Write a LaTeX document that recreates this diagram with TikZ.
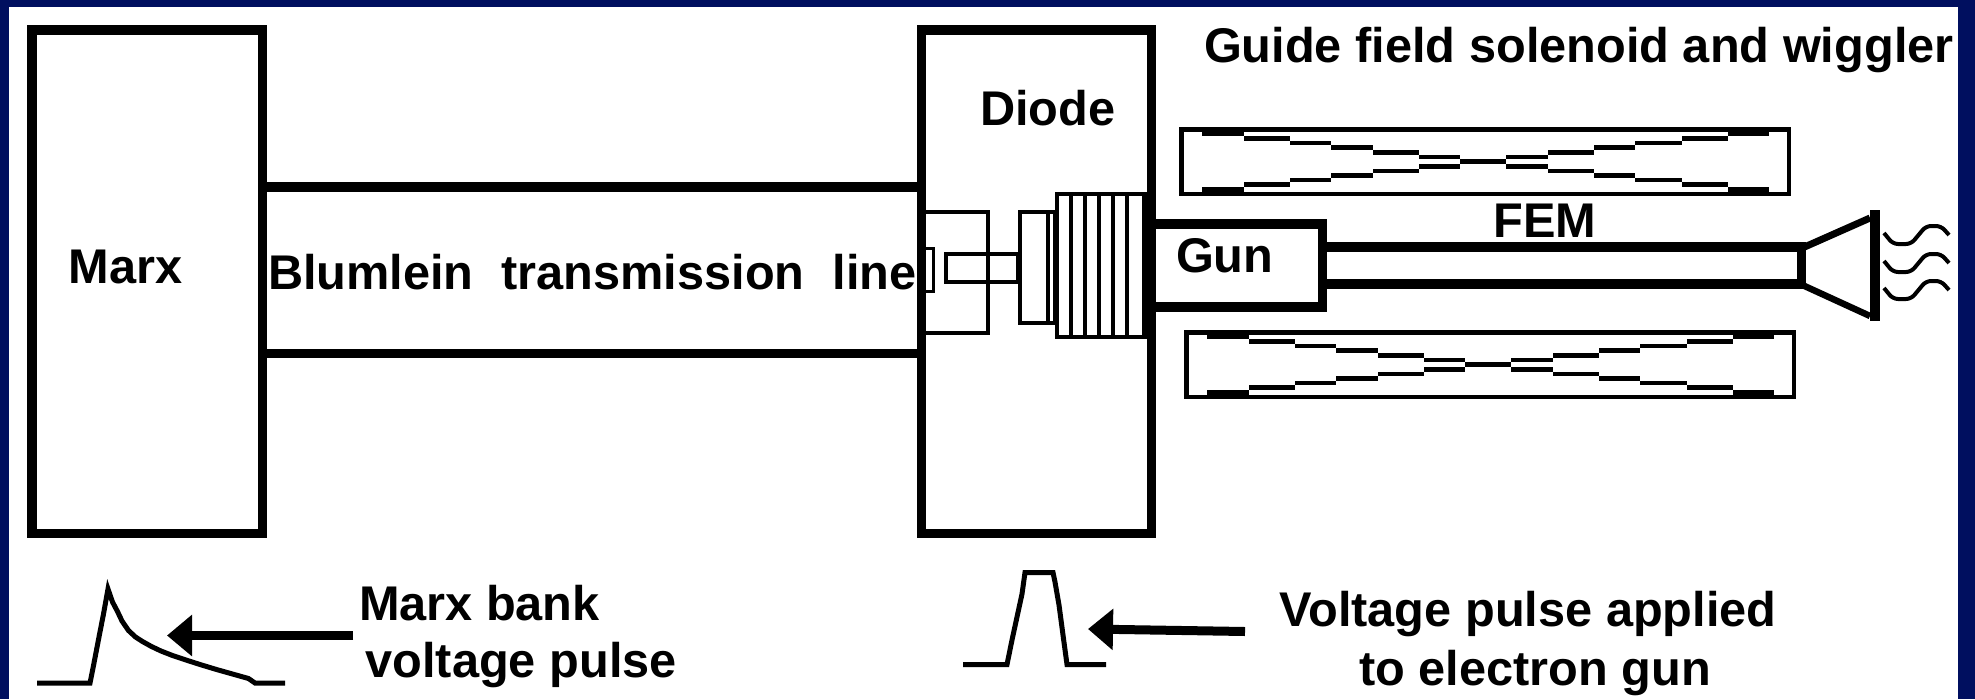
\documentclass[tikz,border=0pt]{standalone}
\usepackage{fontspec}
\setmainfont{Liberation Sans}
\usetikzlibrary{arrows.meta}
\definecolor{slide navy}{RGB}{0,15,95}

\begin{document}
\begin{tikzpicture}[x=1pt,y=-1pt,>={Triangle[length=25pt,width=40pt]},
  main box/.style={draw,line width=9.5pt,inner sep=0pt,outer sep=0pt},
  thin box/.style={draw,line width=4pt,inner sep=0pt,outer sep=0pt},
  main line/.style={line width=9.5pt},
  thin line/.style={line width=5pt},
  main label/.style={font=\fontsize{48.7}{48.7}\bfseries,inner sep=0pt,outer sep=0pt,anchor=base west}]
  % slide background
  \fill[slide navy] (0,0) rectangle (1975,699);
  \fill[white] (9,7) rectangle (1958,699);
  % marx bank, diode and gun
  \node[main box,minimum width=230.5pt,minimum height=503.5pt] (marx) at (147.25,281.75) {};
  \node[main box,minimum width=230pt,minimum height=503.5pt] (diode) at (1036.5,281.75) {};
  \node[main box,minimum width=171pt,minimum height=83pt] (gun) at (1237,265.5) {};
  \draw[main line] (marx.east |- 0,187) -- (diode.west |- 0,187);
  \draw[main line] (marx.east |- 0,353.5) -- (diode.west |- 0,353.5);
  % parts inside the diode
  \node[thin box,minimum width=66.5pt,minimum height=121pt] (feed) at (954.75,272.5) {};
  \node[thin box,minimum width=72pt,minimum height=28pt] (pin) at (982,268) {};
  \node[thin box,minimum width=35pt,minimum height=111pt] (insulator) at (1037.5,267.5) {};
  \node[thin box,minimum width=93pt,minimum height=143pt] (stack) at (1103.5,265.5) {};
  \draw[line width=3pt] (926,248.5) -- (933.5,248.5) -- (933.5,291.5) -- (926,291.5);
  \draw[line width=4pt] (1048,0 |- insulator.north) -- (1048,0 |- insulator.south);
  \foreach \x in {1071,1085,1099,1113,1127}
    \draw[line width=4pt] (\x,0 |- stack.north) -- (\x,0 |- stack.south);
  \draw[line width=5pt] (1144.5,0 |- stack.north) -- (1144.5,0 |- stack.south);
  % solenoid and wiggler, upper and lower
  \foreach \sx/\sy in {0/0,5/203}{
    \begin{scope}[shift={(\sx,\sy)}]
      \draw[line width=4.6pt] (1181.5,129.5) rectangle (1789,194);
      \foreach \xa/\xb/\ua/\ub/\la/\lb in {1202/1244/132/136/187/192,1244/1290/136/141/182/187,
        1290/1331/141/145/178/182,1331/1373/145/150/173/178,1373/1419/150/155/169/173,
        1419/1460/155/159/164/169,1460/1506/159/164/159/164,1506/1548/155/159/164/169,
        1548/1594/150/155/169/173,1594/1635/145/150/173/178,1635/1682/141/145/178/182,
        1682/1728/136/141/182/187,1728/1769/132/136/187/192}{
        \fill (\xa,\ua) rectangle (\xb,\ub);
        \fill (\xa,\la) rectangle (\xb,\lb);
      }
    \end{scope}
  }
  % tube and horn
  \coordinate (tubeup) at (1801.5,247);
  \coordinate (tubedown) at (1801.5,284);
  \coordinate (hornup) at (1870,218);
  \coordinate (horndown) at (1870,316);
  \draw[main line] (gun.east |- tubeup) -- (tubeup) -- (tubedown) -- (gun.east |- tubedown);
  \draw[line width=7pt] (tubeup) ++(3,0) -- (hornup);
  \draw[line width=6.5pt] (tubedown) ++(3,2) -- (horndown);
  \draw[main line] (1875,210) -- (1875,321);
  \foreach \dy in {0,28,55}
    \draw[line width=4pt,rounded corners=5pt] (1884,233+\dy) -- (1893,244+\dy) -- (1911,244+\dy)
      -- (1926,226+\dy) -- (1941,226+\dy) -- (1949,235+\dy);
  % pulses and their arrows
  \draw[thin line] (37,683) -- (90,683) -- (94,663) -- (99,637) -- (103.5,614) -- (108,589)
    -- (112.5,602) -- (117.5,611.5) -- (122,621) -- (128.5,630.5) -- (135.5,637) -- (142.5,641.5)
    -- (151.5,646.5) -- (161,651) -- (172.5,655.5) -- (186,660) -- (200,664.5) -- (216.5,669.5)
    -- (232.5,674) -- (248.5,678.5) -- (255,683) -- (285,683);
  \draw[thin line] (963,664.5) -- (1007,664.5) -- (1012,640) -- (1017,617) -- (1022,594)
    -- (1025,572.5) -- (1053,572.5) -- (1055,582) -- (1059,605) -- (1063,635) -- (1067,664.5) -- (1106,664.5);
  \coordinate (marxtail) at (353,635.5);
  \coordinate (marxtip) at (167,635.5);
  \coordinate (guntail) at (1245,631.5);
  \coordinate (guntip) at (1088,629);
  \draw[->,line width=9pt] (marxtail) -- (marxtip);
  \draw[->,line width=9pt] (guntail) -- (guntip);
  % labels
  \node[main label] (marxname) at (68.5,283) {Marx};
  \node[main label] (blumlein) at (268,289) {Blumlein\hspace{28pt}transmission\hspace{28pt}line};
  \node[main label] (diodename) at (980,125) {Diode};
  \node[main label] (gunname) at (1176,272) {Gun};
  \node[main label] (femname) at (1493.5,237) {FEM};
  \node[main label] (guide) at (1204,62) {Guide field solenoid and wiggler};
  \node[main label] (marxbank) at (359,620) {Marx bank};
  \node[main label] (marxpulse) at ([shift={(6.5,57)}]marxbank.base west) {voltage pulse};
  \node[main label,anchor=base] (gunpulse) at (1528,626) {Voltage pulse applied};
  \node[main label,anchor=base] (gunpulsetwo) at ([shift={(7,59)}]gunpulse.base) {to electron gun};
\end{tikzpicture}
\end{document}
